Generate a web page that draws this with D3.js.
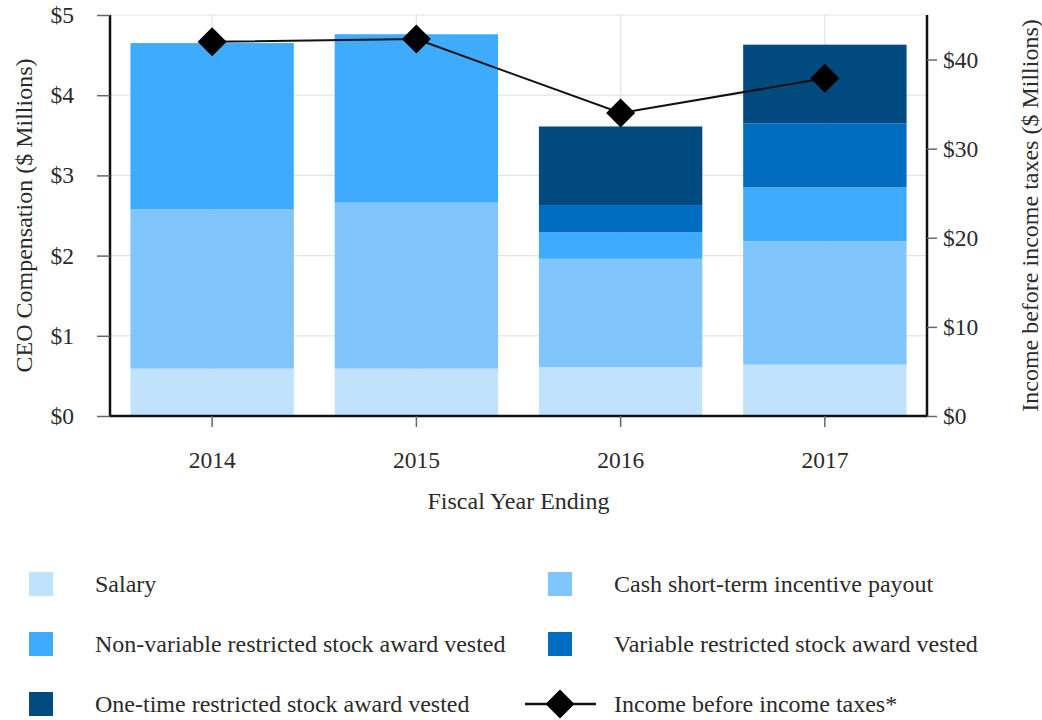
<!DOCTYPE html>
<html>
<head>
<meta charset="utf-8">
<script src="https://cdn.jsdelivr.net/npm/d3@7"></script>
<style>
  html, body { margin: 0; padding: 0; background: #fff; }
  svg { display: block; }
  text { font-family: "Liberation Serif", "Times New Roman", serif; fill: #2b2b2b; }
</style>
</head>
<body>
<svg id="chart" width="1042" height="720"></svg>
<script>
// ---- Data ----
const years = ["2014", "2015", "2016", "2017"];
const salary = [0.59, 0.59, 0.61, 0.64];
const cashIncentive = [1.99, 2.07, 1.35, 1.54];
const nonVariableRSA = [2.07, 2.10, 0.33, 0.67];
const variableRSA = [0, 0, 0.34, 0.80];
const oneTimeRSA = [0, 0, 0.98, 0.98];
const incomeBeforeTaxes = [42.0, 42.3, 34.0, 37.9];

const seriesNames = [
  "Salary",
  "Cash short-term incentive payout",
  "Non-variable restricted stock award vested",
  "Variable restricted stock award vested",
  "One-time restricted stock award vested"
];
const lineName = "Income before income taxes*";
const leftTicks = [0, 1, 2, 3, 4, 5];
const rightTicks = [0, 10, 20, 30, 40];
const leftTitle = "CEO Compensation ($ Millions)";
const rightTitle = "Income before income taxes ($ Millions)";
const xTitle = "Fiscal Year Ending";

// ---- Styles ----
const colors = ["#c1e2fd", "#80c5fc", "#3fabfd", "#016dc0", "#014a80"];
const tickFont = 23.5;
const titleFont = 24;

const svg = d3.select("#chart");
const plot = { left: 110, right: 927, top: 15, bottom: 416 };

const table = years.map((y, i) => ({
  year: y,
  s0: salary[i], s1: cashIncentive[i], s2: nonVariableRSA[i], s3: variableRSA[i], s4: oneTimeRSA[i]
}));
const keys = ["s0", "s1", "s2", "s3", "s4"];
const stacked = d3.stack().keys(keys)(table);

const x = d3.scaleBand().domain(years).range([plot.left, plot.right])
  .paddingInner(0.2).paddingOuter(0.1);
const yL = d3.scaleLinear().domain([0, 5]).range([plot.bottom, plot.top]);
const yR = d3.scaleLinear().domain([0, 45]).range([plot.bottom, plot.top]);

// gridlines
const grid = svg.append("g");
grid.selectAll("line.h").data(leftTicks.filter(d => d > 0)).join("line")
  .attr("x1", plot.left).attr("x2", plot.right)
  .attr("y1", d => yL(d)).attr("y2", d => yL(d))
  .attr("stroke", "#e3e3e3").attr("stroke-width", 1.2);
grid.selectAll("line.v").data(years).join("line")
  .attr("x1", d => x(d) + x.bandwidth() / 2).attr("x2", d => x(d) + x.bandwidth() / 2)
  .attr("y1", plot.top).attr("y2", plot.bottom)
  .attr("stroke", "#e3e3e3").attr("stroke-width", 1.2);

// bars
svg.append("g").selectAll("g").data(stacked).join("g")
  .attr("fill", (d, i) => colors[i])
  .selectAll("rect").data(d => d).join("rect")
  .attr("x", d => x(d.data.year))
  .attr("width", x.bandwidth())
  .attr("y", d => yL(d[1]))
  .attr("height", d => Math.max(0, yL(d[0]) - yL(d[1])));

// axes
const leftAxis = svg.append("g").attr("transform", `translate(${plot.left},0)`)
  .call(d3.axisLeft(yL).tickValues(leftTicks).tickFormat(d => "$" + d).tickSize(13).tickPadding(23));
const rightAxis = svg.append("g").attr("transform", `translate(${plot.right},0)`)
  .call(d3.axisRight(yR).tickValues(rightTicks).tickFormat(d => "$" + d).tickSize(10).tickPadding(6));
const bottomAxis = svg.append("g").attr("transform", `translate(0,${plot.bottom})`)
  .call(d3.axisBottom(x).tickSize(11).tickPadding(24));

[leftAxis, rightAxis, bottomAxis].forEach(a => {
  a.select(".domain").attr("stroke", "#111").attr("stroke-width", 2.5);
  a.selectAll(".tick line").attr("stroke", "#666").attr("stroke-width", 1.5);
  a.selectAll(".tick text").attr("font-size", tickFont)
    .attr("font-family", '"Liberation Serif", serif').attr("fill", "#2b2b2b");
});
leftAxis.select(".domain").attr("d", `M0,${plot.top}V${plot.bottom}`);
rightAxis.select(".domain").attr("d", `M0,${plot.top}V${plot.bottom}`);
bottomAxis.select(".domain").attr("d", `M${plot.left},0H${plot.right}`);

// line + diamonds
const pts = years.map((y, i) => [x(y) + x.bandwidth() / 2, yR(incomeBeforeTaxes[i])]);
svg.append("path").attr("d", d3.line()(pts))
  .attr("fill", "none").attr("stroke", "#111").attr("stroke-width", 2);
const diamond = d3.symbol().type(d3.symbolSquare).size(420);
svg.append("g").selectAll("path").data(pts).join("path")
  .attr("d", diamond)
  .attr("transform", d => `translate(${d[0]},${d[1]}) rotate(45)`)
  .attr("fill", "#000");

// axis titles
svg.append("text").attr("transform", `translate(32,${(plot.top + plot.bottom) / 2}) rotate(-90)`)
  .attr("text-anchor", "middle").attr("font-size", titleFont).text(leftTitle);
svg.append("text").attr("transform", `translate(1038,${(plot.top + plot.bottom) / 2}) rotate(-90)`)
  .attr("text-anchor", "middle").attr("font-size", titleFont).text(rightTitle);
svg.append("text").attr("x", (plot.left + plot.right) / 2).attr("y", 509)
  .attr("text-anchor", "middle").attr("font-size", titleFont).text(xTitle);

// legend
const legendItems = seriesNames.map((n, i) => ({ name: n, color: colors[i], type: "rect" }))
  .concat([{ name: lineName, type: "line" }]);
const colX = [29, 548];
const rowY = [584, 644, 704];
const lg = svg.append("g");
legendItems.forEach((it, i) => {
  const cx = colX[i % 2], cy = rowY[Math.floor(i / 2)];
  if (it.type === "rect") {
    lg.append("rect").attr("x", cx).attr("y", cy - 12).attr("width", 24).attr("height", 24).attr("fill", it.color);
  } else {
    lg.append("line").attr("x1", cx - 23).attr("x2", cx + 48).attr("y1", cy).attr("y2", cy)
      .attr("stroke", "#111").attr("stroke-width", 2.5);
    lg.append("path").attr("d", diamond).attr("transform", `translate(${cx + 12},${cy}) rotate(45)`).attr("fill", "#000");
  }
  lg.append("text").attr("x", cx + 66).attr("y", cy + 8).attr("font-size", titleFont).text(it.name);
});
</script>
</body>
</html>
